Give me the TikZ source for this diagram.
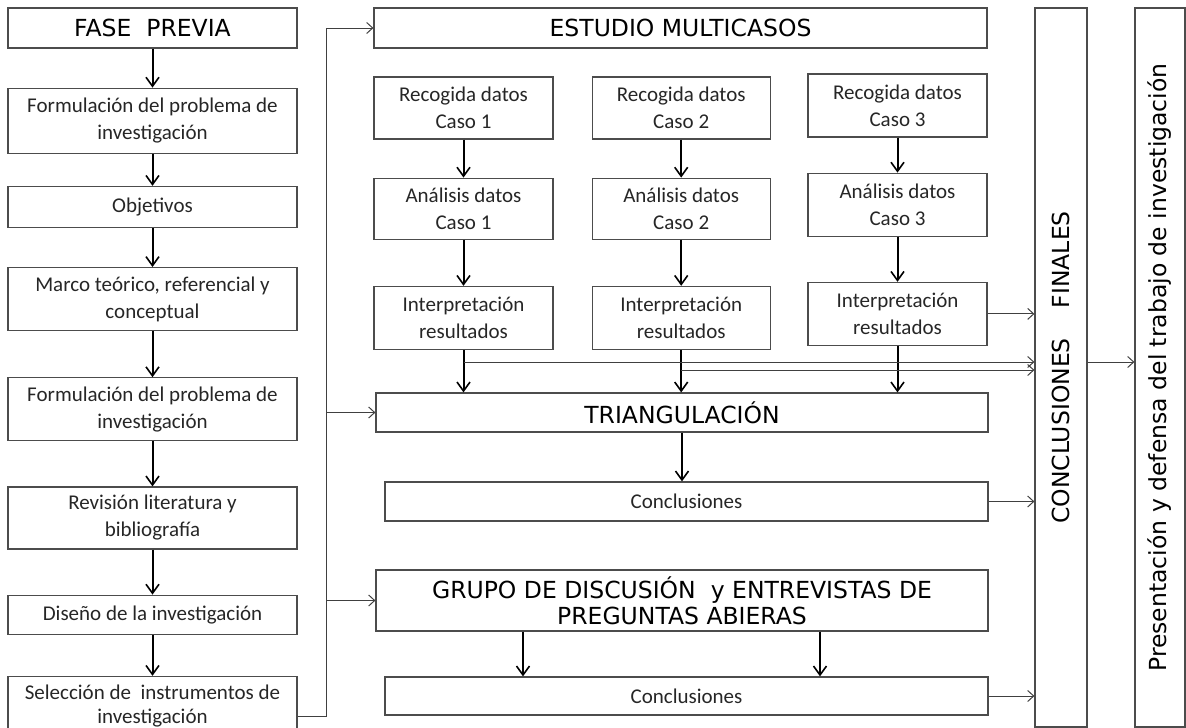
\documentclass[tikz,border=0pt]{standalone}
\usepackage{fontspec}
\usepackage{graphicx}
\setmainfont{Carlito}
\newfontfamily\headfont{DejaVu Sans}
\usetikzlibrary{positioning, arrows.meta}

\begin{document}
\begin{tikzpicture}[
	x=1pt, y=-1pt,
	box/.style={draw=black!70, line width=1.2pt, align=center, inner sep=2pt,
		text=black!85, font=\fontsize{21}{27}\selectfont},
	head/.style={font=\headfont\fontsize{23.5}{23}\selectfont, text=black},
	flow/.style={-{Straight Barb[length=9pt, width=13pt, line width=1.6pt]}, line width=2pt},
	link/.style={-{Straight Barb[length=6pt, width=11pt]}, line width=1pt, draw=black!75},
	wire/.style={line width=1pt, draw=black!75}
	]
	\useasboundingbox (0,0) rectangle (1186,728);

	% fase previa
	\node[box, head, minimum width=289pt, minimum height=40pt] (fase) at (152.5,28) {FASE\ \ PREVIA};
	\node[box, minimum width=289pt, minimum height=65pt, below=39pt of fase] (formA) {Formulación del problema de\\investigación};
	\node[box, minimum width=289pt, minimum height=41pt, below=32pt of formA] (obj) {Objetivos};
	\node[box, minimum width=289pt, minimum height=63pt, below=39pt of obj] (marco) {Marco teórico, referencial y\\conceptual};
	\node[box, minimum width=289pt, minimum height=63pt, below=46pt of marco] (formB) {Formulación del problema de\\investigación};
	\node[box, minimum width=289pt, minimum height=62pt, below=45pt of formB] (rev) {Revisión literatura y\\bibliografía};
	\node[box, minimum width=289pt, minimum height=39pt, below=45pt of rev] (dis) {Diseño de la investigación};
	\node[box, minimum width=289pt, minimum height=60pt, below=41pt of dis, font=\fontsize{21}{24.5}\selectfont,
		text depth=4pt] (sel) {Selección de\ \ instrumentos de\\investigación};

	% estudio multicasos
	\node[box, head, minimum width=613pt, minimum height=40pt] (estudio) at (680.5,28) {ESTUDIO MULTICASOS};
	\node[box, minimum width=179pt, minimum height=62pt] (rec1) at (463.5,108) {Recogida datos\\Caso 1};
	\node[box, minimum width=178pt, minimum height=62pt, right=38pt of rec1] (rec2) {Recogida datos\\Caso 2};
	\node[box, minimum width=179pt, minimum height=63pt] (rec3) at (897.5,105.5) {Recogida datos\\Caso 3};
	\node[box, minimum width=179pt, minimum height=61pt, below=38pt of rec1] (ana1) {Análisis datos\\Caso 1};
	\node[box, minimum width=178pt, minimum height=61pt, below=38pt of rec2] (ana2) {Análisis datos\\Caso 2};
	\node[box, minimum width=179pt, minimum height=63pt, below=35pt of rec3] (ana3) {Análisis datos\\Caso 3};
	\node[box, minimum width=179pt, minimum height=63pt, below=46pt of ana1] (int1) {Interpretación\\resultados};
	\node[box, minimum width=178pt, minimum height=63pt, below=46pt of ana2] (int2) {Interpretación\\resultados};
	\node[box, minimum width=179pt, minimum height=63pt, below=45pt of ana3] (int3) {Interpretación\\resultados};

	\node[box, head, minimum width=612pt, minimum height=39pt] (triang) at (682,412.5) {TRIANGULACIÓN};
	\node[box, minimum width=603pt, minimum height=39pt] (concA) at (686.5,501.5) {Conclusiones};
	\node[box, head, minimum width=612pt, minimum height=61pt] (grupo) at (682,600.5)
		{GRUPO DE DISCUSIÓN\ \ y ENTREVISTAS DE\\[3pt]PREGUNTAS ABIERAS};
	\node[box, minimum width=603pt, minimum height=38pt] (concB) at (686.5,696) {Conclusiones};

	% columnas finales
	\node[box, head, minimum width=52pt, minimum height=719pt, inner sep=0pt] (conc) at (1061,367.5)
		{\rotatebox{90}{CONCLUSIONES\hspace{30pt}FINALES}};
	\node[box, head, minimum width=50pt, minimum height=719pt, inner sep=0pt] (pres) at (1160,367.5)
		{\rotatebox{90}{Presentación y defensa del trabajo de investigación}};

	\coordinate (busT) at (326,28);
	\coordinate (tapA) at (463.5,362);
	\coordinate (tapB) at (681,370);

	\draw[flow] (fase) -- (formA);
	\draw[flow] (formA) -- (obj);
	\draw[flow] (obj) -- (marco);
	\draw[flow] (marco) -- (formB);
	\draw[flow] (formB) -- (rev);
	\draw[flow] (rev) -- (dis);
	\draw[flow] (dis) -- (sel);

	\foreach \c in {1,2,3} {
		\draw[flow] (rec\c) -- (ana\c);
		\draw[flow] (ana\c) -- (int\c);
		\draw[flow] (int\c.south) -- (int\c.south |- triang.north);
	}
	\draw[flow] (triang.south) -- (triang.south |- concA.north);
	\draw[flow] ([xshift=-159pt]grupo.south) -- ([xshift=-159pt]grupo.south |- concB.north);
	\draw[flow] ([xshift=138pt]grupo.south) -- ([xshift=138pt]grupo.south |- concB.north);

	\draw[wire] ([yshift=-10pt]sel.east) -| (busT);
	\draw[link] (busT) -- (estudio.west);
	\draw[link] (busT |- triang.west) -- (triang.west);
	\draw[link] (busT |- grupo.west) -- (grupo.west);

	\draw[link] (tapA) -- (tapA -| conc.west);
	\draw[link] (tapB) -- (tapB -| conc.west);
	\draw[link] (int3.east) -- (int3.east -| conc.west);
	\draw[link] (concA.east) -- (concA.east -| conc.west);
	\draw[link] (concB.east) -- (concB.east -| conc.west);
	\draw[link] (tapA -| conc.east) -- (tapA -| pres.west);
\end{tikzpicture}
\end{document}
